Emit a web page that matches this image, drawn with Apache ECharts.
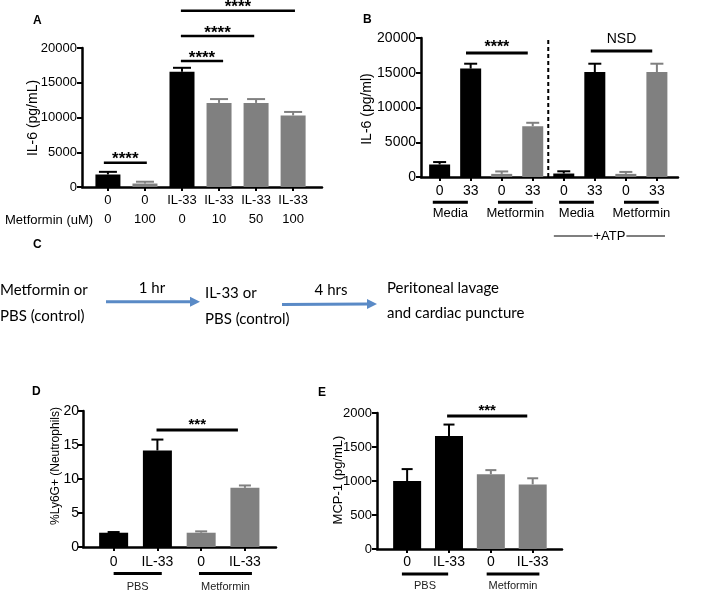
<!DOCTYPE html>
<html><head><meta charset="utf-8">
<script src="https://cdn.jsdelivr.net/npm/echarts@6/dist/echarts.min.js"></script>
<style>html,body{margin:0;padding:0;background:#fff}#c{width:708px;height:593px}</style>
</head><body><div id="c"></div>
<script>
// ---------- Panel A ----------
const labelsA1 = ['0', '0', 'IL-33', 'IL-33', 'IL-33', 'IL-33'];
const labelsA2 = ['0', '100', '0', '10', '50', '100'];
const valsA = [1800, 500, 16600, 12100, 12100, 10300];
const errA = [380, 260, 550, 550, 550, 500];
const colorA = ['k', 'g', 'k', 'g', 'g', 'g'];
const sigA = [[-0.11, 1.05, 3500, '****'], [1.97, 3.11, 18130, '****'], [1.97, 3.95, 21730, '****'], [1.97, 5.05, 25370, '****']];
const ticksA = [0, 5000, 10000, 15000, 20000];

// ---------- Panel B ----------
const labelsB = ['0', '33', '0', '33', '0', '33', '0', '33'];
const valsB = [1800, 15600, 450, 7300, 500, 15100, 450, 15100];
const errB = [350, 700, 350, 500, 320, 1200, 280, 1200];
const colorB = ['k', 'k', 'g', 'g', 'k', 'k', 'g', 'g'];
const sigB = [[0.85, 2.84, 17840, '****'], [4.87, 6.85, 18130, 'NSD']];
const groupsB = [[-0.22, 0.91, 'Media'], [1.88, 3.0, 'Metformin'], [3.85, 4.97, 'Media'], [5.94, 7.06, 'Metformin']];
const atpB = [[3.68, 7.26, '+ATP']];
const dividerB = 3.5;

// ---------- Panel D ----------
const labelsD = ['0', 'IL-33', '0', 'IL-33'];
const valsD = [2.1, 14.2, 2.1, 8.7];
const errD = [0.1, 1.6, 0.2, 0.35];
const colorD = ['k', 'k', 'g', 'g'];
const sigD = [[0.98, 2.84, 17.2, '***']];
const groupsD = [[0.0, 1.1, 'PBS'], [1.95, 3.16, 'Metformin']];

// ---------- Panel E ----------
const labelsE = ['0', 'IL-33', '0', 'IL-33'];
const valsE = [1000, 1660, 1100, 950];
const errE = [175, 170, 60, 90];
const colorE = ['k', 'k', 'g', 'g'];
const sigE = [[0.955, 2.87, 1956, '***']];
const groupsE = [[-0.125, 0.98, 'PBS'], [1.9, 3.16, 'Metformin']];

const COL = {k: '#000000', g: '#808080'};
const FF = '"Liberation Sans", Arial, sans-serif';

function idx(n) { return Array.from({length: n}, (_, i) => i); }

function barSeries(vals, cols, ax, bw) {
  return {type: 'bar', xAxisIndex: ax, yAxisIndex: ax, barWidth: bw, z: 3,
    data: vals.map((v, i) => ({value: [i, v], itemStyle: {color: COL[cols[i]]}})), silent: true};
}
function errSeries(vals, errs, cols, ax, capW) {
  return {type: 'custom', xAxisIndex: ax, yAxisIndex: ax, z: 2, silent: true, clip: false,
    data: vals.map((v, i) => [i, v + errs[i]]),
    renderItem: function (params, api) {
      const i = params.dataIndex;
      const top = api.coord([i, vals[i]]);
      const cap = api.coord([i, vals[i] + errs[i]]);
      const c = COL[cols[i]];
      return {type: 'group', children: [
        {type: 'line', shape: {x1: top[0], y1: top[1], x2: cap[0], y2: cap[1]}, style: {stroke: c, lineWidth: 2}},
        {type: 'line', shape: {x1: cap[0] - capW / 2, y1: cap[1], x2: cap[0] + capW / 2, y2: cap[1]}, style: {stroke: c, lineWidth: 2}}
      ]};
    }};
}
function sigSeries(list, ax, textOff, font, lw) {
  return {type: 'custom', xAxisIndex: ax, yAxisIndex: ax, z: 4, silent: true, clip: false,
    data: list.map(s => [s[0], s[2]]),
    renderItem: function (params, api) {
      const s = list[params.dataIndex];
      const p1 = api.coord([s[0], s[2]]), p2 = api.coord([s[1], s[2]]);
      const isText = s[3].indexOf('*') < 0;
      return {type: 'group', children: [
        {type: 'line', shape: {x1: p1[0], y1: p1[1], x2: p2[0], y2: p2[1]}, style: {stroke: '#000', lineWidth: lw}},
        {type: 'text', x: (p1[0] + p2[0]) / 2, y: p1[1] - (isText ? 12 : textOff),
          style: {text: s[3], align: 'center', verticalAlign: 'middle', font: isText ? '14px ' + FF : font, fill: '#000'}}
      ]};
    }};
}
function groupSeries(list, ax, lineOff, textOff, font, lw, color) {
  return {type: 'custom', xAxisIndex: ax, yAxisIndex: ax, z: 4, silent: true, clip: false,
    data: list.map(g => [g[0], 0]),
    renderItem: function (params, api) {
      const g = list[params.dataIndex];
      const p1 = api.coord([g[0], 0]), p2 = api.coord([g[1], 0]);
      return {type: 'group', children: [
        {type: 'line', shape: {x1: p1[0], y1: p1[1] + lineOff, x2: p2[0], y2: p1[1] + lineOff}, style: {stroke: '#000', lineWidth: lw}},
        {type: 'text', x: (p1[0] + p2[0]) / 2, y: p1[1] + textOff, style: {text: g[2], align: 'center', verticalAlign: 'middle', font: font, fill: color}}
      ]};
    }};
}
function atpSeries(list, ax) {
  return {type: 'custom', xAxisIndex: ax, yAxisIndex: ax, z: 4, silent: true, clip: false,
    data: list.map(g => [g[0], 0]),
    renderItem: function (params, api) {
      const g = list[params.dataIndex];
      const p1 = api.coord([g[0], 0]), p2 = api.coord([g[1], 0]);
      const y = p1[1] + 59, cx = (p1[0] + p2[0]) / 2;
      return {type: 'group', children: [
        {type: 'line', shape: {x1: p1[0], y1: y, x2: cx - 17, y2: y}, style: {stroke: '#000', lineWidth: 1.2}},
        {type: 'line', shape: {x1: cx + 17, y1: y, x2: p2[0], y2: y}, style: {stroke: '#000', lineWidth: 1.2}},
        {type: 'text', x: cx, y: y, style: {text: g[2], align: 'center', verticalAlign: 'middle', font: '13px ' + FF, fill: '#000'}}
      ]};
    }};
}

function xAxisDef(gi, n, min, max, fmt, margin, fs, lh) {
  return {type: 'value', gridIndex: gi, min: min, max: max, splitLine: {show: false},
    axisLine: {show: true, onZero: false, lineStyle: {color: '#000', width: 2.5}},
    axisTick: {show: true, customValues: idx(n), length: 4, lineStyle: {color: '#000', width: 2}},
    axisLabel: {show: true, customValues: idx(n), margin: margin, formatter: fmt, color: '#000', fontFamily: FF, fontSize: fs, lineHeight: lh,
      rich: {a: {fontFamily: FF, fontSize: fs, lineHeight: lh, color: '#000'}}}};
}
function yAxisDef(gi, max, interval, margin, fs) {
  return {type: 'value', gridIndex: gi, min: 0, max: max, interval: interval, splitLine: {show: false},
    axisLine: {show: true, onZero: false, lineStyle: {color: '#000', width: 2.5}},
    axisTick: {show: true, length: 5, lineStyle: {color: '#000', width: 2}},
    axisLabel: {margin: margin, color: '#000', fontFamily: FF, fontSize: fs, formatter: (v) => String(v)}};
}

function txt(x, y, t, font, align, extra) {
  return Object.assign({type: 'text', x: x, y: y, silent: true,
    style: {text: t, font: font, fill: '#000', align: align || 'left', verticalAlign: 'middle'}}, extra || {});
}
function arrow(x1, x2, y1, y2) {
  const ang = Math.atan2(y2 - y1, x2 - x1);
  const L = 10, W = 5;
  const bx = x2 - L * Math.cos(ang), by = y2 - L * Math.sin(ang);
  return [
    {type: 'line', silent: true, shape: {x1: x1, y1: y1, x2: bx, y2: by}, style: {stroke: '#5a8ac6', lineWidth: 3}},
    {type: 'polygon', silent: true, shape: {points: [[x2, y2], [bx - W * Math.sin(ang), by + W * Math.cos(ang)], [bx + W * Math.sin(ang), by - W * Math.cos(ang)]]}, style: {fill: '#5a8ac6'}}
  ];
}

const CF = '15px Lato, "Open Sans", sans-serif';
const chart = echarts.init(document.getElementById('c'), null, {renderer: 'canvas'});
chart.setOption({
  animation: false,
  backgroundColor: '#fff',
  grid: [
    {left: 82, top: 48, width: 240, height: 139},
    {left: 421, top: 38, width: 257, height: 139},
    {left: 83, top: 411, width: 193, height: 136},
    {left: 377, top: 413, width: 185, height: 136}
  ],
  xAxis: [
    xAxisDef(0, 6, -0.7, 5.78, (v) => '{a|' + labelsA1[Math.round(v)] + '}\n{a|' + labelsA2[Math.round(v)] + '}', 4, 13, 19),
    xAxisDef(1, 8, -0.6, 7.68, (v) => labelsB[Math.round(v)], 6, 14, 16),
    xAxisDef(2, 4, -0.70, 3.71, (v) => labelsD[Math.round(v)], 7, 14, 16),
    xAxisDef(3, 4, -0.72, 3.70, (v) => labelsE[Math.round(v)], 5, 14, 16)
  ],
  yAxis: [
    yAxisDef(0, ticksA[ticksA.length - 1], ticksA[1] - ticksA[0], 5, 13),
    yAxisDef(1, 20000, 5000, 5, 14),
    yAxisDef(2, 20, 5, 4, 14),
    yAxisDef(3, 2000, 500, 5, 13)
  ],
  series: [
    barSeries(valsA, colorA, 0, 25), errSeries(valsA, errA, colorA, 0, 18), sigSeries(sigA, 0, 3, 'bold 17px ' + FF, 2.5),
    barSeries(valsB, colorB, 1, 21), errSeries(valsB, errB, colorB, 1, 13), sigSeries(sigB, 1, 5, 'bold 16px ' + FF, 3),
    groupSeries(groupsB, 1, 25.3, 36.5, '13px ' + FF, 3, '#000'), atpSeries(atpB, 1),
    {type: 'custom', xAxisIndex: 1, yAxisIndex: 1, z: 4, silent: true, clip: false, data: [[dividerB, 0]],
      renderItem: function (params, api) {
        const a = api.coord([dividerB, 0]), b = api.coord([dividerB, 20000]);
        return {type: 'line', shape: {x1: a[0], y1: a[1], x2: b[0], y2: b[1]}, style: {stroke: '#000', lineWidth: 2, lineDash: [4, 3]}};
      }},
    barSeries(valsD, colorD, 2, 29), errSeries(valsD, errD, colorD, 2, 12), sigSeries(sigD, 2, 5, 'bold 15px ' + FF, 3),
    groupSeries(groupsD, 2, 26.6, 40, '11px ' + FF, 3, '#222'),
    barSeries(valsE, colorE, 3, 28), errSeries(valsE, errE, colorE, 3, 11), sigSeries(sigE, 3, 5, 'bold 15px ' + FF, 3),
    groupSeries(groupsE, 3, 25, 37.4, '11px ' + FF, 3, '#222')
  ],
  graphic: [
    txt(33, 21, 'A', 'bold 12px ' + FF),
    txt(363, 20, 'B', 'bold 12px ' + FF),
    txt(33, 245, 'C', 'bold 12px ' + FF),
    txt(32, 392, 'D', 'bold 12px ' + FF),
    txt(318, 393, 'E', 'bold 12px ' + FF),
    txt(33, 118, 'IL-6 (pg/mL)', '14px ' + FF, 'center', {rotation: Math.PI / 2}),
    txt(367, 109, 'IL-6 (pg/ml)', '14px ' + FF, 'center', {rotation: Math.PI / 2}),
    txt(56, 466, '%Ly6G+ (Neutrophils)', '12px ' + FF, 'center', {rotation: Math.PI / 2}),
    txt(338, 480, 'MCP-1 (pg/mL)', '13px ' + FF, 'center', {rotation: Math.PI / 2}),
    txt(5, 220, 'Metformin (uM)', '13px ' + FF),
    txt(0, 290, 'Metformin or', CF),
    txt(0, 316, 'PBS (control)', CF),
    txt(152, 288, '1 hr', CF, 'center'),
    txt(205, 293, 'IL-33 or', CF),
    txt(205, 319, 'PBS (control)', CF),
    txt(331, 290, '4 hrs', CF, 'center'),
    txt(387, 288, 'Peritoneal lavage', CF),
    txt(387, 313, 'and cardiac puncture', CF),
    ...arrow(106, 200, 301.7, 301.7),
    ...arrow(282, 377, 304.5, 304)
  ]
});
</script></body></html>
